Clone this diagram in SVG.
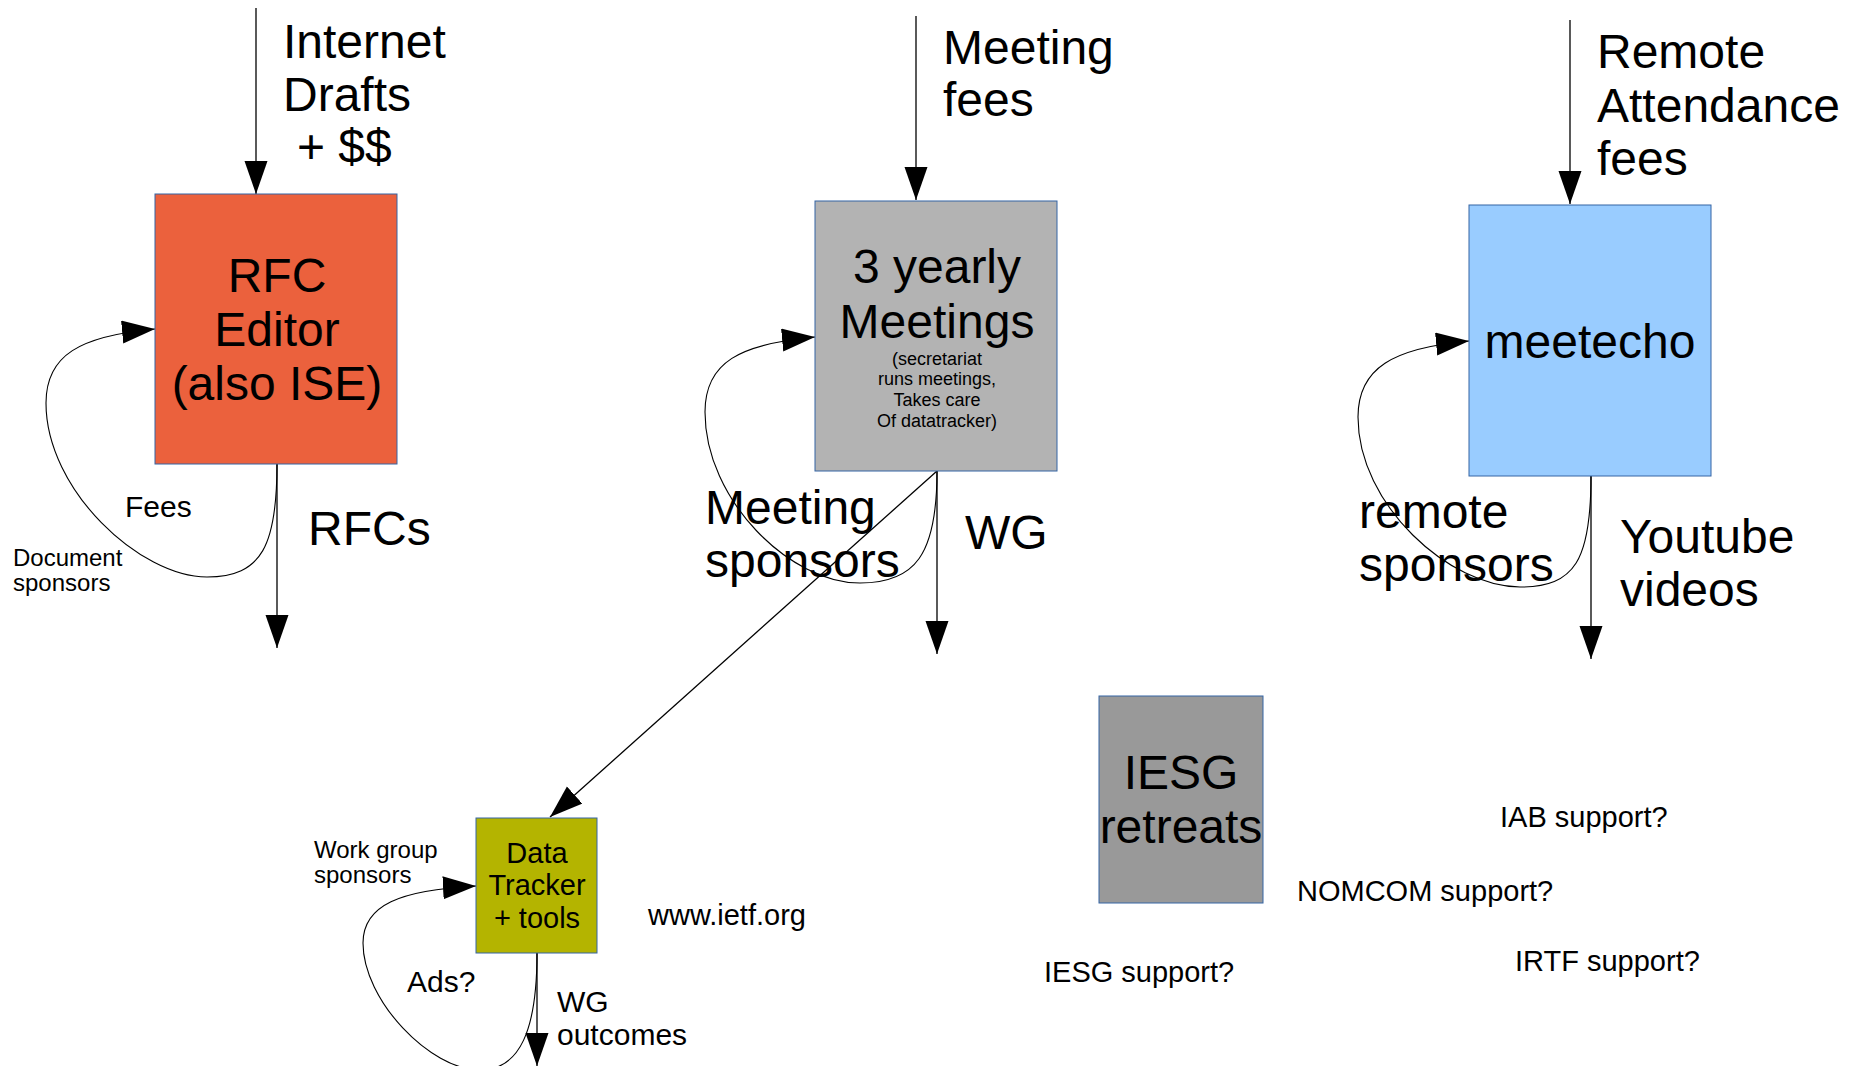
<svg xmlns="http://www.w3.org/2000/svg" width="1851" height="1066" viewBox="0 0 1851 1066">
<style>
text{font-family:"Liberation Sans",Arial,sans-serif;fill:#000}
.big{font-size:48px}
.mid{font-size:30px}
.sm{font-size:24px}
.c{text-anchor:middle}
.box{stroke:#3465a4;stroke-width:1}
.ln{fill:none;stroke:#000;stroke-width:1.3;marker-end:url(#ah)}
.lp{fill:none;stroke:#000;stroke-width:1.1;marker-end:url(#ah)}
</style>
<defs>
<marker id="ah" markerWidth="34" markerHeight="24" viewBox="0 0 34 24" refX="33" refY="11.5" orient="auto" markerUnits="userSpaceOnUse">
<path d="M0,0 L33,11.5 L0,23 z" fill="#000"/>
</marker>
</defs>
<rect width="1851" height="1066" fill="#fff"/>

<g id="connectors">
<path class="ln" d="M256,8 L256,194"/>
<path class="ln" d="M277,464 L277,648"/>
<path class="lp" d="M277,464 C277,545 262,577 207,577 C140,577 46,490 46,403 C46,355 80,336 155,329"/>
<path class="ln" d="M916,16 L916,200"/>
<path class="ln" d="M937,471 L937,654"/>
<path class="lp" d="M937,471 C937,555 915,583 860,583 C790,583 705,500 705,412 C705,362 740,344 815,337"/>
<path class="ln" d="M937,471 L550,817"/>
<path class="ln" d="M1570,20 L1570,204"/>
<path class="ln" d="M1591,476 L1591,659"/>
<path class="lp" d="M1591,476 C1591,560 1575,587 1520,587 C1450,587 1358,505 1358,417 C1358,368 1393,348 1469,341"/>
<path class="ln" d="M537,953 L537,1066"/>
<path class="lp" d="M537,953 C537,1030 520,1070 480,1070 C430,1070 363,1000 363,943 C363,905 400,890 476,886"/>
</g>

<g id="rfc-editor">
<rect class="box" x="155" y="194" width="242" height="270" fill="#eb613d"/>
<text class="big c" x="277" y="292">RFC</text>
<text class="big c" x="277" y="346">Editor</text>
<text class="big c" x="277" y="400">(also ISE)</text>
</g>

<g id="meetings">
<rect class="box" x="815" y="201" width="242" height="270" fill="#b3b3b3"/>
<text class="big c" x="937" y="283">3 yearly</text>
<text class="big c" x="937" y="338">Meetings</text>
<text class="c" style="font-size:18px" x="937" y="365">(secretariat</text>
<text class="c" style="font-size:18px" x="937" y="385">runs meetings,</text>
<text class="c" style="font-size:18px" x="937" y="406">Takes care</text>
<text class="c" style="font-size:18px" x="937" y="427">Of datatracker)</text>
</g>

<g id="meetecho">
<rect class="box" x="1469" y="205" width="242" height="271" fill="#99ccff"/>
<text class="big c" x="1590" y="358">meetecho</text>
</g>

<g id="data-tracker">
<rect class="box" x="476" y="818" width="121" height="135" fill="#b4b400"/>
<text class="c" style="font-size:29px" x="537" y="863">Data</text>
<text class="c" style="font-size:29px" x="537" y="895">Tracker</text>
<text class="c" style="font-size:29px" x="537" y="928">+ tools</text>
</g>

<g id="iesg-retreats">
<rect class="box" x="1099" y="696" width="164" height="207" fill="#999999"/>
<text class="big c" x="1181" y="789">IESG</text>
<text class="big c" x="1181" y="843">retreats</text>
</g>

<g id="labels">
<text class="big" x="283" y="58">Internet</text>
<text class="big" x="283" y="111">Drafts</text>
<text class="big" x="297" y="163">+ $$</text>
<text class="mid" x="125" y="517">Fees</text>
<text class="big" x="308" y="545">RFCs</text>
<text class="sm" x="13" y="566">Document</text>
<text class="sm" x="13" y="591">sponsors</text>

<text class="big" x="943" y="64">Meeting</text>
<text class="big" x="943" y="116">fees</text>
<text class="big" x="705" y="524">Meeting</text>
<text class="big" x="705" y="577">sponsors</text>
<text class="big" x="965" y="549">WG</text>

<text class="big" x="1597" y="68">Remote</text>
<text class="big" x="1597" y="122">Attendance</text>
<text class="big" x="1597" y="175">fees</text>
<text class="big" x="1359" y="528">remote</text>
<text class="big" x="1359" y="581">sponsors</text>
<text class="big" x="1620" y="553">Youtube</text>
<text class="big" x="1620" y="606">videos</text>

<text class="sm" x="314" y="858">Work group</text>
<text class="sm" x="314" y="883">sponsors</text>
<text class="mid" x="407" y="992">Ads?</text>
<text class="mid" x="557" y="1012">WG</text>
<text class="mid" x="557" y="1045">outcomes</text>
<text style="font-size:29px" x="648" y="925">www.ietf.org</text>

<text style="font-size:29px" x="1500" y="827">IAB support?</text>
<text style="font-size:29px" x="1297" y="901">NOMCOM support?</text>
<text style="font-size:29px" x="1515" y="971">IRTF support?</text>
<text style="font-size:29px" x="1044" y="982">IESG support?</text>
</g>
</svg>
